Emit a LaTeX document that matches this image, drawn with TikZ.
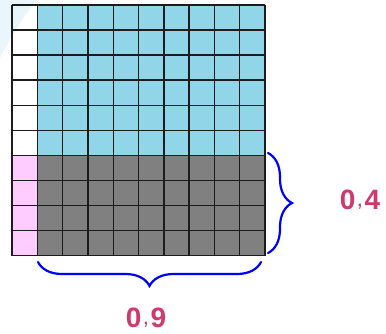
\documentclass[tikz,border=0pt]{standalone}
\usepackage{fontspec}
\setmainfont{Liberation Sans}
\usetikzlibrary{decorations.pathreplacing}
\definecolor{cellblue}{HTML}{90D5E8}
\definecolor{cellgray}{HTML}{808080}
\definecolor{cellpink}{HTML}{FFCCFF}
\definecolor{wmblue}{HTML}{E3F4FA}
\definecolor{gridline}{HTML}{1C1C1C}
\definecolor{bracecol}{HTML}{0000FF}
\definecolor{labelcol}{HTML}{CF3A6B}
\newcommand{\smcomma}{\kern1.5pt\raisebox{3pt}{\fontsize{22}{24}\selectfont\mdseries,}\kern1.5pt}
\tikzset{
  gridlines/.style={draw=gridline, line width=1.4pt},
  bracestyle/.style={draw=bracecol, line width=2.2pt, line cap=round,
    decorate, decoration={brace, amplitude=24pt, aspect=0.5}},
  numlabel/.style={text=labelcol, font=\fontsize{28}{30}\selectfont\bfseries, inner sep=0pt}
}
\begin{document}
\begin{tikzpicture}[x=1pt,y=-1pt]
\useasboundingbox (0,0) rectangle (386,333);
\pgfmathsetmacro{\cw}{25.3}
\pgfmathsetmacro{\ch}{25.05}
% cells
\foreach \i in {0,...,9}{
  \foreach \j in {0,...,9}{
    \pgfmathsetmacro{\xa}{12+\i*\cw}
    \pgfmathsetmacro{\ya}{5+\j*\ch}
    \ifnum\i=0
      \ifnum\j<6 \def\cc{white}\else\def\cc{cellpink}\fi
    \else
      \ifnum\j<6 \def\cc{cellblue}\else\def\cc{cellgray}\fi
    \fi
    \fill[\cc] (\xa,\ya) rectangle ++(\cw,\ch);
  }
}
% faint watermark swoosh
\fill[wmblue, fill opacity=0.8] (0,0) -- (37,0) .. controls (22,18) and (10,38) .. (0,58) -- cycle;
% grid lines
\foreach \i in {0,...,10}{
  \draw[gridlines] ({12+\i*\cw},5) -- ({12+\i*\cw},{5+10*\ch});
  \draw[gridlines] (12,{5+\i*\ch}) -- ({12+10*\cw},{5+\i*\ch});
}
% braces
\coordinate (rt) at (268,153);
\coordinate (rb) at (268,253);
\coordinate (bl) at (38,262);
\coordinate (br) at (261,262);
\draw[bracestyle] (rt) -- (rb);
\draw[bracestyle] (br) -- (bl);
% labels
\node[numlabel] (l4) at (360,200) {0\smcomma4};
\node[numlabel] (l9) at (146,318) {0\smcomma9};
\end{tikzpicture}
\end{document}
